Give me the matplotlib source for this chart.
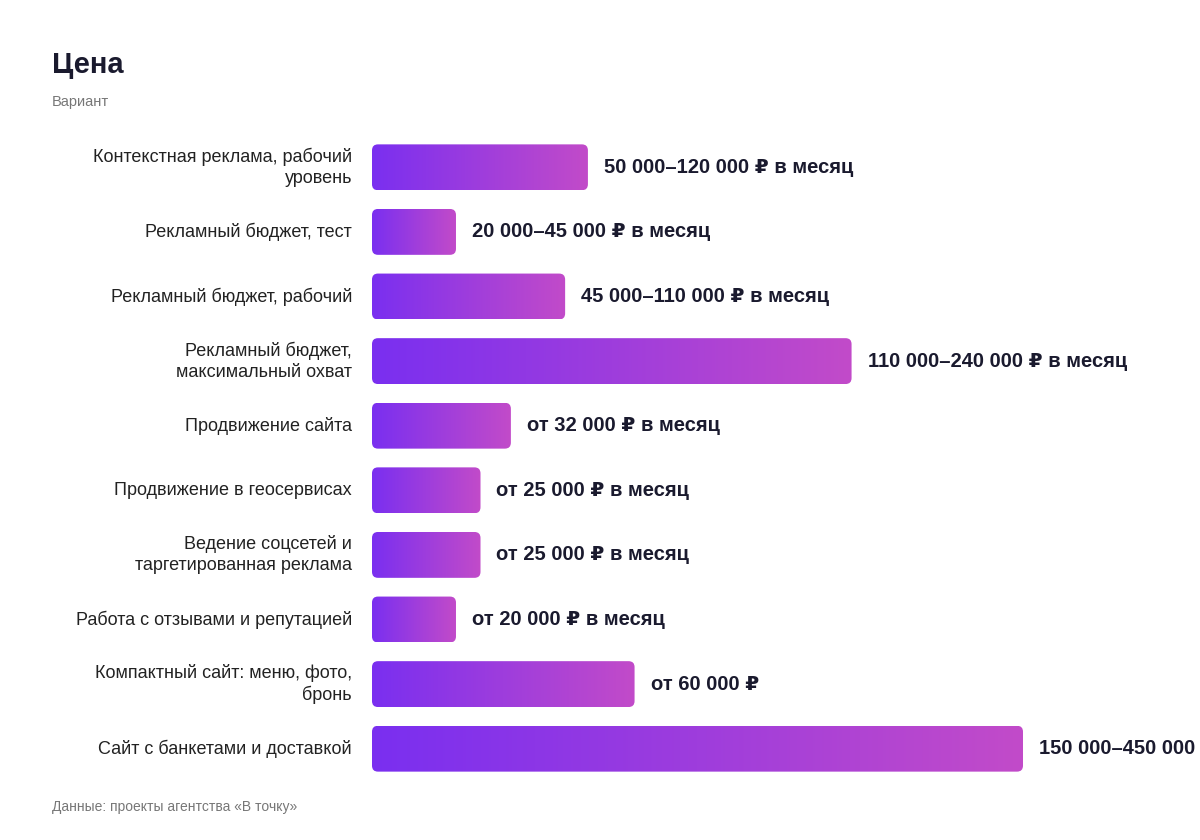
import numpy as np
import matplotlib
matplotlib.use("Agg")
import matplotlib.pyplot as plt
from matplotlib.patches import FancyBboxPatch
from matplotlib.colors import LinearSegmentedColormap

plt.rcParams['font.family'] = ['Liberation Sans', 'DejaVu Sans']

categories = [
    "Контекстная реклама, рабочий\nуровень",
    "Рекламный бюджет, тест",
    "Рекламный бюджет, рабочий",
    "Рекламный бюджет,\nмаксимальный охват",
    "Продвижение сайта",
    "Продвижение в геосервисах",
    "Ведение соцсетей и\nтаргетированная реклама",
    "Работа с отзывами и репутацией",
    "Компактный сайт: меню, фото,\nбронь",
    "Сайт с банкетами и доставкой",
]
# bar lengths (thousands of rubles, scale)
values = [99.5, 38.7, 89, 221, 64, 50, 50, 38.7, 121, 300]
value_labels = [
    "50 000–120 000 ₽ в месяц",
    "20 000–45 000 ₽ в месяц",
    "45 000–110 000 ₽ в месяц",
    "110 000–240 000 ₽ в месяц",
    "от 32 000 ₽ в месяц",
    "от 25 000 ₽ в месяц",
    "от 25 000 ₽ в месяц",
    "от 20 000 ₽ в месяц",
    "от 60 000 ₽",
    "150 000–450 000 ₽",
]

fig = plt.figure(figsize=(12, 8.4), dpi=100)
ax = fig.add_axes([0.31, 1 - 781 / 840, 0.69, 646 / 840])
xmax = 300 * 828 / 651
ax.set_xlim(0, xmax)
ax.set_ylim(9.5, -0.5)
ax.axis('off')

cmap = LinearSegmentedColormap.from_list('g', ['#7A2FF0', '#C24BC9'])
grad = np.linspace(0, 1, 256).reshape(1, -1)
xpp = xmax / 828
ypp = 1 / 64.6
h = 0.71
for i, v in enumerate(values):
    patch = FancyBboxPatch((0, i - h / 2), v, h,
                           boxstyle=f"round,pad=0,rounding_size={6 * xpp}",
                           mutation_aspect=ypp / xpp,
                           facecolor='none', edgecolor='none')
    ax.add_patch(patch)
    im = ax.imshow(grad, cmap=cmap, aspect='auto',
                   extent=(0, v, i + h / 2, i - h / 2), zorder=2)
    im.set_clip_path(patch)
    ax.text(v + 16 * xpp, i, value_labels[i], va='center', ha='left',
            fontsize=14.5, fontweight='bold', color='#1a1a2e', clip_on=False)
    ax.text(-20 * xpp, i, categories[i], va='center', ha='right',
            fontsize=13, color='#222222', linespacing=1.3, clip_on=False)

ax.set_xlim(0, xmax)
ax.set_ylim(9.5, -0.5)

fig.text(52 / 1200, 1 - 65 / 840, "Цена", fontsize=21, fontweight='bold',
         color='#1a1a2e', va='center')
fig.text(52 / 1200, 1 - 102 / 840, "Вариант", fontsize=10.5,
         color='#777777', va='center')
fig.text(52 / 1200, 1 - 807 / 840, "Данные: проекты агентства «В точку»",
         fontsize=10, color='#777777', va='center')

fig.savefig("out.png", dpi=100, facecolor='white')
